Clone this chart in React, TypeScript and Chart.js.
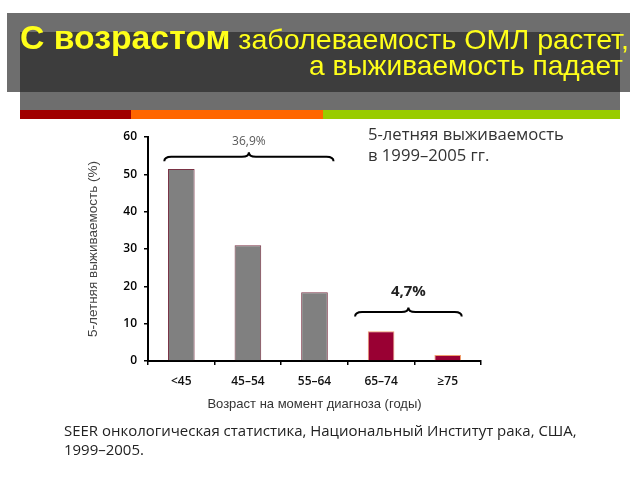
import { useEffect, useRef } from 'react';
import { Chart, registerables } from 'chart.js';

Chart.register(...registerables);

const categories = ['<45', '45–54', '55–64', '65–74', '≥75'];
const survival = [51.4, 31.0, 18.4, 8.0, 1.6];
const barColors = ['#808080', '#808080', '#808080', '#990033', '#990033'];
const barBorders = ['#7a3345', '#7a3345', '#7a3345', '#f0a070', '#f0a070'];
const yMin = 0;
const yMax = 60;
const yStep = 10;

const braceLabels = ['36,9%', '4,7%'];
const braceFrom = [0, 3];
const braceTo = [2, 4];
const braceLevel = [53.5, 11.9];

const titleBold = 'С возрастом';
const titleRest = ' заболеваемость ОМЛ растет,';
const titleLine2 = 'а выживаемость падает';
const noteLines = ['5-летняя выживаемость', 'в 1999–2005 гг.'];
const sourceLines = ['SEER онкологическая статистика, Национальный Институт рака, США,', '1999–2005.'];
const yTitle = '5-летняя выживаемость (%)';
const xTitle = 'Возраст на момент диагноза (годы)';

const decorPlugin = {
  id: 'decor',
  beforeDraw(chart: any) {
    const ctx: CanvasRenderingContext2D = chart.ctx;
    ctx.save();
    ctx.fillStyle = '#ffffff';
    ctx.fillRect(0, 0, chart.width, chart.height);
    // banner
    ctx.fillStyle = '#6e6e6e';
    ctx.fillRect(7, 13, 623, 79);
    ctx.fillRect(20, 92, 600, 18);
    ctx.fillStyle = '#3d3d3d';
    ctx.fillRect(20, 32, 600, 60);
    ctx.fillStyle = '#a00000';
    ctx.fillRect(20, 110, 111, 9);
    ctx.fillStyle = '#ff6600';
    ctx.fillRect(131, 110, 192, 9);
    ctx.fillStyle = '#99cc00';
    ctx.fillRect(323, 110, 297, 9);

    // title
    ctx.fillStyle = '#ffff1a';
    ctx.textBaseline = 'alphabetic';
    const fB = 'bold 33px "Liberation Sans", Arial, sans-serif';
    const fR = '28px "Liberation Sans", Arial, sans-serif';
    ctx.font = fB;
    const wB = ctx.measureText(titleBold).width;
    ctx.font = fR;
    const wR = ctx.measureText(titleRest).width;
    const s1 = 609 / (wB + wR);
    ctx.save();
    ctx.translate(20, 49);
    ctx.scale(s1, 1);
    ctx.textAlign = 'left';
    ctx.font = fB;
    ctx.fillText(titleBold, 0, 0);
    ctx.font = fR;
    ctx.fillText(titleRest, wB, 0);
    ctx.restore();
    ctx.font = fR;
    const w2 = ctx.measureText(titleLine2).width;
    const s2 = 314 / w2;
    ctx.save();
    ctx.translate(623, 75);
    ctx.scale(s2, 1);
    ctx.textAlign = 'right';
    ctx.fillText(titleLine2, 0, 0);
    ctx.restore();

    // note
    ctx.textAlign = 'left';
    ctx.fillStyle = '#333333';
    ctx.font = '16px "Open Sans", sans-serif';
    const wn = ctx.measureText(noteLines[0]).width;
    const fsN = (16 * 196) / wn;
    ctx.font = `${fsN}px "Open Sans", sans-serif`;
    ctx.fillText(noteLines[0], 368, 140);
    ctx.fillText(noteLines[1], 368, 161);

    // source
    ctx.fillStyle = '#222222';
    ctx.font = '15px "Open Sans", sans-serif';
    const ws = ctx.measureText(sourceLines[0]).width;
    const fsS = (15 * 513) / ws;
    ctx.font = `${fsS}px "Open Sans", sans-serif`;
    ctx.fillText(sourceLines[0], 64, 436);
    ctx.fillText(sourceLines[1], 64, 455);
    ctx.restore();
  },
  afterDatasetsDraw(chart: any) {
    const ctx: CanvasRenderingContext2D = chart.ctx;
    const xs = chart.scales.x;
    const ys = chart.scales.y;
    const ext = [
      [-17, 19],
      [-26, 14],
    ];
    const labelGap = [20, 25];
    const labelFont = ['12px "Open Sans", sans-serif', 'bold 15px "Open Sans", sans-serif'];
    const labelColor = ['#595959', '#222222'];
    ctx.save();
    for (let i = 0; i < braceLabels.length; i++) {
      const x0 = xs.getPixelForValue(braceFrom[i]) + ext[i][0];
      const x1 = xs.getPixelForValue(braceTo[i]) + ext[i][1];
      const yb = ys.getPixelForValue(braceLevel[i]);
      const xm = (x0 + x1) / 2;
      const h = 9;
      const ym = yb - h / 2;
      const yc = yb - h;
      const r = 7;
      ctx.beginPath();
      ctx.moveTo(x0, yb);
      ctx.quadraticCurveTo(x0, ym, x0 + r, ym);
      ctx.lineTo(xm - r, ym);
      ctx.quadraticCurveTo(xm, ym, xm, yc);
      ctx.quadraticCurveTo(xm, ym, xm + r, ym);
      ctx.lineTo(x1 - r, ym);
      ctx.quadraticCurveTo(x1, ym, x1, yb);
      ctx.strokeStyle = '#000000';
      ctx.lineWidth = 2;
      ctx.stroke();
      ctx.fillStyle = labelColor[i];
      ctx.font = labelFont[i];
      ctx.textAlign = 'center';
      ctx.textBaseline = 'middle';
      ctx.fillText(braceLabels[i], xm, yb - labelGap[i]);
    }
    ctx.restore();
  },
};

export default function App() {
  const ref = useRef<HTMLCanvasElement | null>(null);
  useEffect(() => {
    if (!ref.current) return;
    const chart = new Chart(ref.current, {
      type: 'bar',
      data: {
        labels: categories,
        datasets: [
          {
            data: survival,
            backgroundColor: barColors,
            borderColor: barBorders,
            borderWidth: 1,
            barPercentage: 0.4,
            categoryPercentage: 1,
          },
        ],
      },
      options: {
        responsive: false,
        animation: false,
        layout: { padding: { left: 0, top: 137, right: 159, bottom: 68 } },
        plugins: { legend: { display: false }, tooltip: { enabled: false } },
        scales: {
          x: {
            grid: {
              display: true,
              drawOnChartArea: false,
              drawTicks: true,
              tickLength: 4,
              color: '#000000',
              lineWidth: 1.5,
              offset: true,
            },
            border: { display: true, color: '#000000', width: 2 },
            ticks: {
              color: '#111111',
              font: { family: '"Open Sans", sans-serif', size: 12, weight: '600' },
              padding: 9,
            },
            title: {
              display: true,
              text: xTitle,
              color: '#333333',
              font: { family: '"Liberation Sans", Arial, sans-serif', size: 13 },
              padding: 0,
            },
            afterFit: (s: any) => {
              s.height = 51;
              s.paddingLeft = 0;
              s.paddingRight = 0;
            },
          },
          y: {
            min: yMin,
            max: yMax,
            grid: {
              display: true,
              drawOnChartArea: false,
              drawTicks: true,
              tickLength: 4,
              color: '#000000',
              lineWidth: 1.5,
            },
            border: { display: true, color: '#000000', width: 2 },
            ticks: {
              stepSize: yStep,
              color: '#000000',
              font: { family: '"Open Sans", sans-serif', size: 12, weight: '600' },
              padding: 7,
            },
            title: {
              display: true,
              text: yTitle,
              color: '#444444',
              font: { family: '"Liberation Sans", Arial, sans-serif', size: 13.5 },
              padding: { top: 85, bottom: 0 },
            },
            afterFit: (s: any) => {
              s.width = 148;
              s.paddingTop = 0;
              s.paddingBottom = 0;
            },
          },
        },
      },
      plugins: [decorPlugin],
    });
    return () => chart.destroy();
  }, []);
  return (
    <div style={{ position: 'fixed', left: 0, top: 0, width: 640, height: 480, background: '#fff' }}>
      <canvas ref={ref} width={640} height={480} style={{ display: 'block' }} />
    </div>
  );
}
